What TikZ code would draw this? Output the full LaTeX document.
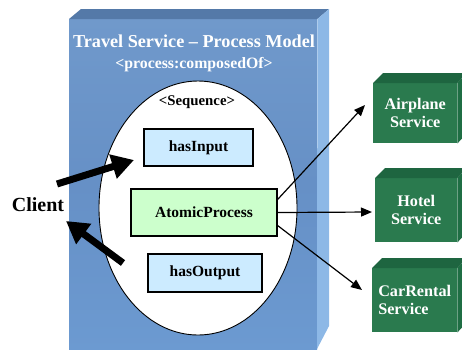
\documentclass[tikz,border=0pt]{standalone}
\usepackage{fontspec}
\setmainfont{Liberation Serif}
\usetikzlibrary{arrows.meta,shapes.geometric}
\definecolor{bluefronttop}{HTML}{7099CB}
\definecolor{bluefrontmid}{HTML}{6690C6}
\definecolor{bluefrontbot}{HTML}{6C9AD1}
\definecolor{bluetopface}{HTML}{5479A8}
\definecolor{bluesideface}{HTML}{8DB8E6}
\definecolor{inbox}{HTML}{CCEBFF}
\definecolor{procbox}{HTML}{CCFFCC}
\definecolor{gfront}{HTML}{2A7A4E}
\definecolor{gtop}{HTML}{1E6540}
\definecolor{gside}{HTML}{1F6E44}
\tikzset{
  partbox/.style={draw=black, line width=1.1pt, inner sep=0pt, font=\fontsize{15.5}{17}\selectfont\bfseries},
  svcbox/.style={fill=gfront, text=white, inner sep=0pt, minimum width=84pt, minimum height=60pt, anchor=north west,
                 font=\fontsize{16.2}{18}\selectfont\bfseries},
  bigarrow/.style={line width=7pt, -{Triangle[length=22pt,width=24pt]}},
  thinarrow/.style={line width=1.2pt, -{Triangle[length=11pt,width=9pt]}},
  whitetitle/.style={text=white, inner sep=0pt, font=\bfseries}
}
\begin{document}
\begin{tikzpicture}[x=1pt,y=-1pt]
\useasboundingbox (0,0) rectangle (462,349);
% process model box
\node[top color=bluefronttop, bottom color=bluefrontbot, middle color=bluefrontmid, minimum width=248pt, minimum height=332pt,
      inner sep=0pt, anchor=north west] (pm) at (69,19) {};
\fill[bluetopface] (pm.north west) -- (81,9) -- (329,9) -- (pm.north east) -- cycle;
\fill[bluesideface] (pm.north east) -- (329,9) -- (329,326) -- (317,349) -- cycle;
\node[whitetitle, font=\fontsize{18.2}{20}\selectfont\bfseries] (title) at (194,41) {Travel Service – Process Model};
\node[whitetitle, font=\fontsize{15.8}{17}\selectfont\bfseries] (sub) at (194,65) {<process:composedOf>};
% sequence ellipse
\node[ellipse, draw=black, line width=0.9pt, fill=white, minimum width=198pt, minimum height=254pt, inner sep=0pt] (seq) at (198,208) {};
\node[inner sep=0pt, font=\fontsize{14.8}{16}\selectfont\bfseries] (seqlabel) at (197,102) {<Sequence>};
\node[partbox, fill=inbox, minimum width=109pt, minimum height=37pt] (in) at (198.5,147.5) {hasInput};
\node[partbox, fill=procbox, minimum width=146pt, minimum height=47pt] (ap) at (204,212.5) {AtomicProcess};
\node[partbox, fill=inbox, minimum width=114pt, minimum height=38pt] (out) at (205,273) {hasOutput};
% client
\node[inner sep=0pt, font=\fontsize{20}{22}\selectfont\bfseries] (client) at (38,205) {Client};
\coordinate (c1s) at (57,184);
\coordinate (c1e) at (134,160);
\coordinate (c2s) at (123,263);
\coordinate (c2e) at (66,221);
\draw[bigarrow] (c1s) -- (c1e);
\draw[bigarrow] (c2s) -- (c2e);
% services
\node[svcbox, align=center] (air) at (373,83) {Airplane\\Service};
\fill[gtop] (air.north west) -- ++(10,-10) -- ++(84,0) -- (air.north east) -- cycle;
\fill[gside] (air.north east) -- ++(10,-10) -- ++(0,60) -- (air.south east) -- cycle;
\node[svcbox, align=center, minimum width=82pt, minimum height=64pt] (hotel) at (375,178) {Hotel\\Service};
\fill[gtop] (hotel.north west) -- ++(10,-10) -- ++(82,0) -- (hotel.north east) -- cycle;
\fill[gside] (hotel.north east) -- ++(10,-10) -- ++(0,64) -- (hotel.south east) -- cycle;
\node[svcbox, align=left, minimum width=85pt, minimum height=64pt] (car) at (372,268) {CarRental\\Service};
\fill[gtop] (car.north west) -- ++(10,-10) -- ++(85,0) -- (car.north east) -- cycle;
\fill[gside] (car.north east) -- ++(10,-10) -- ++(0,64) -- (car.south east) -- cycle;
\coordinate (t1) at (365,105);
\coordinate (t2) at (372,212);
\coordinate (t3) at (362,290);
\draw[thinarrow] (ap.10) -- (t1);
\draw[thinarrow] (ap.east) -- (t2);
\draw[thinarrow] (ap.-10) -- (t3);
\end{tikzpicture}
\end{document}
